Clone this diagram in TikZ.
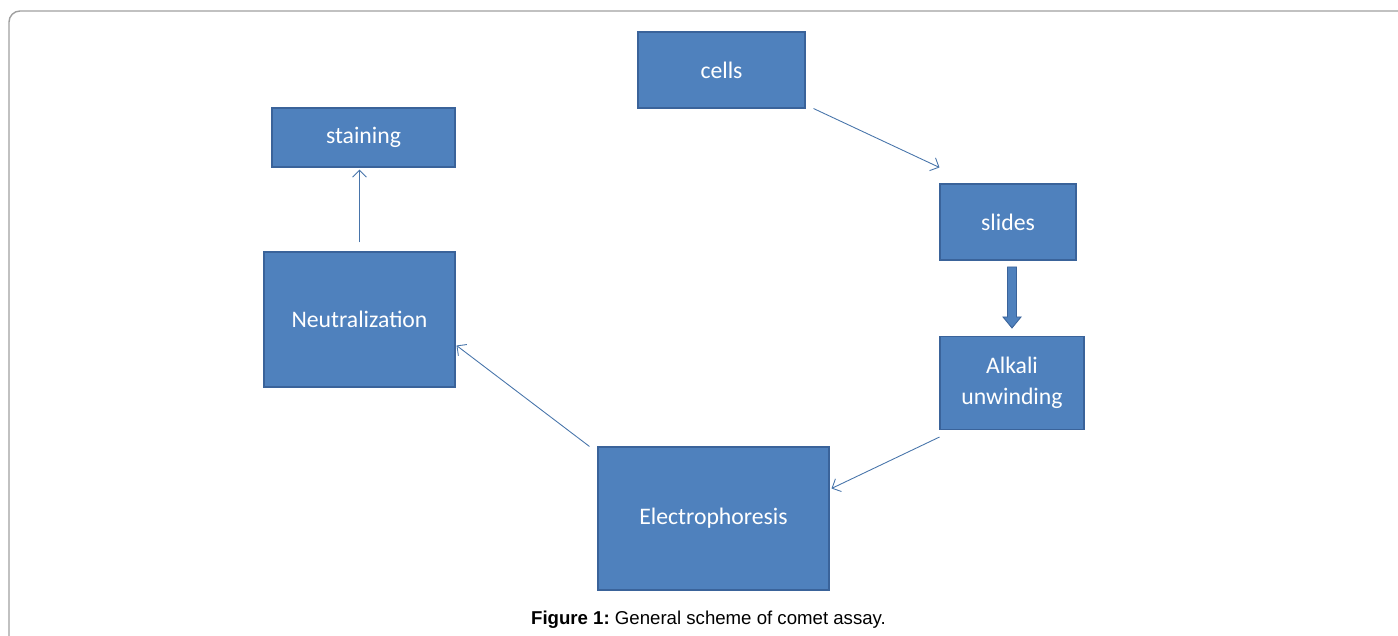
\documentclass[tikz,border=0pt]{standalone}
\usepackage{fontspec}
\setmainfont{Carlito}
\newfontfamily\capfont{Liberation Sans}
\usetikzlibrary{calc,arrows.meta}
\definecolor{boxblue}{HTML}{4F81BD}
\definecolor{boxline}{HTML}{3A639A}

\begin{document}
\begin{tikzpicture}[x=0.02cm,y=-0.02cm]
    \tikzstyle{stage} = [draw=boxline, fill=boxblue, text=white, font=\fontsize{13.5}{17.5}\selectfont,
                         align=center, inner sep=0pt, line width=0.6pt]
    \tikzstyle{arrow} = [draw=boxblue!90!black, line width=0.5pt, -{Straight Barb[length=4pt,width=8pt]}]
    \useasboundingbox (0,0) rectangle (1398,635);

    % Frame round the figure
    \draw [gray!75, line width=0.8pt] (9,640) -- (9,22) arc (180:270:11) -- (1400,11);

    % First step, top
    \node [stage, minimum width=167*0.02cm, minimum height=76*0.02cm] (Cells) at (721.5,70) {cells};

    % Second step, right
    \node [stage, minimum width=136*0.02cm, minimum height=76*0.02cm] (Slides) at (1008,222) {slides};
    \draw [arrow] ($(Cells.south east)+(8,0)$) -- ($(Slides.north west)+(0,-16)$);

    % Third step, right bottom
    \node [stage, minimum width=144*0.02cm, minimum height=93*0.02cm] (Alkali) at (1012,383) {Alkali\\unwinding};
    \path [draw=boxline, fill=boxblue, line width=0.5pt]
        ($(Alkali.north)+(-4.5,-69)$) -- ($(Alkali.north)+(4.5,-69)$) -- ($(Alkali.north)+(4.5,-19)$)
        -- ($(Alkali.north)+(9,-19)$) -- ($(Alkali.north)+(0,-8)$) -- ($(Alkali.north)+(-9,-19)$)
        -- ($(Alkali.north)+(-4.5,-19)$) -- cycle;

    % Fourth step, bottom
    \node [stage, minimum width=231*0.02cm, minimum height=143*0.02cm] (Electro) at (713.5,518.5) {Electrophoresis};
    \draw [arrow] ($(Alkali.south west)+(0,7)$) -- ($(Electro.north east)+(2,42)$);

    % Fifth step, left
    \node [stage, minimum width=191*0.02cm, minimum height=135*0.02cm] (Neutral) at (359.5,319.5) {Neutralization};
    \draw [arrow] ($(Electro.north west)+(-8,0)$) -- ($(Neutral.east)+(1,26)$);

    % Last step, left top
    \node [stage, minimum width=183*0.02cm, minimum height=59*0.02cm] (Staining) at (363.5,137.5) {staining};
    \draw [arrow] ($(Neutral.north)+(0,-9)$) -- ($(Neutral.north |- Staining.south)+(0,2)$);

    % Caption
    \node [font=\capfont\fontsize{10.6}{12}\selectfont] (Caption) at (708.5,620) {\textbf{Figure 1:}~General scheme of comet assay.};
\end{tikzpicture}
\end{document}
